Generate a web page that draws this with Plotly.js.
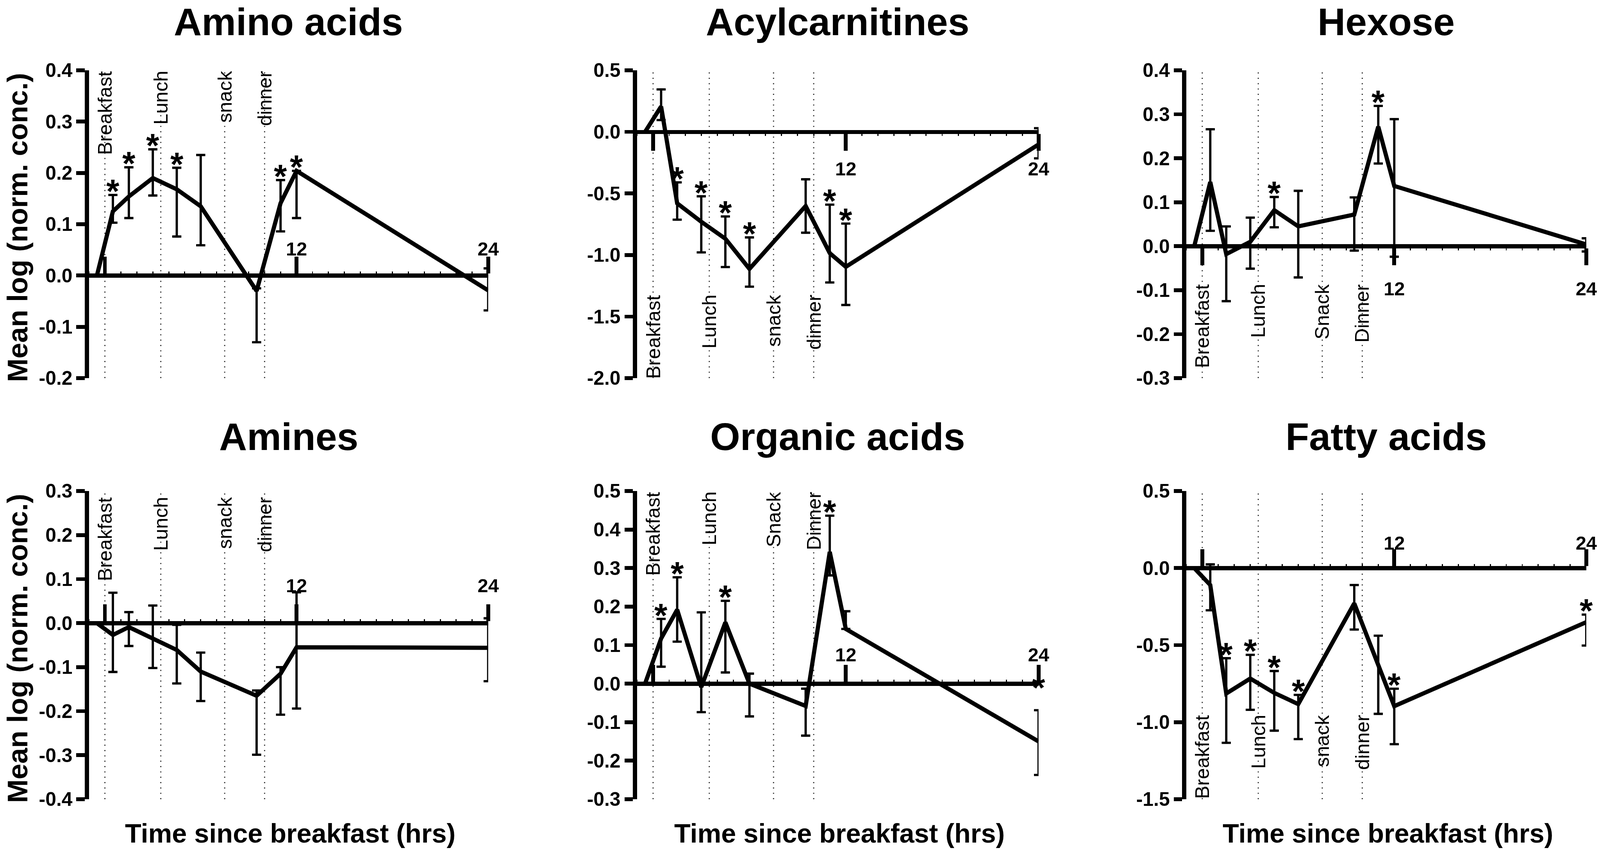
<!DOCTYPE html>
<html><head><meta charset="utf-8">
<script src="https://cdn.plot.ly/plotly-3.0.1.min.js"></script>
<style>html,body{margin:0;padding:0;background:#fff;overflow:hidden}#chart{width:100vw;height:100vh}</style>
</head><body><div id="chart"></div>
<script>
// ---------- data ----------
const times = [-0.5, 0.5, 1.5, 3, 4.5, 6, 9.5, 11, 12, 24];
const mealTimes = [0, 3.5, 7.5, 10];
const mealsLower = ['Breakfast', 'Lunch', 'snack', 'dinner'];
const mealsUpper = ['Breakfast', 'Lunch', 'Snack', 'Dinner'];
const xTickVals = [0, 12, 24];
const xTickText = ['', '12', '24'];

const aminoMean = [0, 0.125, 0.154, 0.190, 0.168, 0.135, -0.030, 0.141, 0.204, -0.029];
const aminoHi   = [0, 0.157, 0.211, 0.246, 0.210, 0.235, -0.025, 0.186, 0.204, 0.014];
const aminoLo   = [0, 0.103, 0.112, 0.156, 0.076, 0.059, -0.130, 0.086, 0.112, -0.068];
const aminoStars = [1, 2, 3, 4, 7, 8];
const aminoYTicks = [-0.2, -0.1, 0, 0.1, 0.2, 0.3, 0.4];
const aminoYText = ['-0.2', '-0.1', '0.0', '0.1', '0.2', '0.3', '0.4'];

const acylMean = [0, 0.206, -0.580, -0.730, -0.868, -1.113, -0.602, -0.985, -1.096, -0.102];
const acylHi   = [0, 0.345, -0.410, -0.523, -0.687, -0.857, -0.385, -0.591, -0.745, 0.030];
const acylLo   = [0, 0.096, -0.713, -0.979, -1.098, -1.257, -0.819, -1.223, -1.406, -0.215];
const acylStars = [2, 3, 4, 5, 7, 8];
const acylYTicks = [-2, -1.5, -1, -0.5, 0, 0.5];
const acylYText = ['-2.0', '-1.5', '-1.0', '-0.5', '0.0', '0.5'];

const hexMean = [0, 0.146, -0.018, 0.010, 0.082, 0.045, 0.072, 0.272, 0.137, 0.004];
const hexHi   = [0, 0.266, 0.045, 0.065, 0.112, 0.126, 0.111, 0.319, 0.289, 0.018];
const hexLo   = [0, 0.035, -0.125, -0.051, 0.043, -0.071, -0.010, 0.188, -0.024, -0.012];
const hexStars = [4, 7];
const hexYTicks = [-0.3, -0.2, -0.1, 0, 0.1, 0.2, 0.3, 0.4];
const hexYText = ['-0.3', '-0.2', '-0.1', '0.0', '0.1', '0.2', '0.3', '0.4'];

const amineMean = [0, -0.027, -0.009, -0.035, -0.061, -0.110, -0.165, -0.115, -0.055, -0.056];
const amineHi   = [0, 0.069, 0.025, 0.040, -0.004, -0.067, -0.153, -0.100, 0.070, 0.011];
const amineLo   = [0, -0.111, -0.052, -0.102, -0.137, -0.177, -0.299, -0.208, -0.194, -0.132];
const amineStars = [];
const amineYTicks = [-0.4, -0.3, -0.2, -0.1, 0, 0.1, 0.2, 0.3];
const amineYText = ['-0.4', '-0.3', '-0.2', '-0.1', '0.0', '0.1', '0.2', '0.3'];

const orgMean = [0, 0.117, 0.192, -0.009, 0.159, 0.000, -0.058, 0.342, 0.142, -0.150];
const orgHi   = [0, 0.168, 0.276, 0.185, 0.215, 0.026, -0.013, 0.436, 0.188, -0.069];
const orgLo   = [0, 0.044, 0.109, -0.074, 0.029, -0.085, -0.135, 0.281, 0.142, -0.237];
const orgStars = [1, 2, 4, 7, 9];
const orgStarLevel24 = -0.02;   // the 24 h star is drawn on top of the axis tick
const orgYTicks = [-0.3, -0.2, -0.1, 0, 0.1, 0.2, 0.3, 0.4, 0.5];
const orgYText = ['-0.3', '-0.2', '-0.1', '0.0', '0.1', '0.2', '0.3', '0.4', '0.5'];

const fattyMean = [0, -0.110, -0.814, -0.717, -0.810, -0.883, -0.229, -0.630, -0.896, -0.351];
const fattyHi   = [0, 0.024, -0.585, -0.563, -0.668, -0.823, -0.110, -0.439, -0.783, -0.302];
const fattyLo   = [0, -0.274, -1.134, -0.920, -1.055, -1.110, -0.399, -0.946, -1.143, -0.503];
const fattyStars = [2, 3, 4, 5, 8, 9];
const fattyYTicks = [-1.5, -1, -0.5, 0, 0.5];
const fattyYText = ['-1.5', '-1.0', '-0.5', '0.0', '0.5'];

const yTitle = 'Mean log (norm. conc.)';
const xTitle = 'Time since breakfast (hrs)';

// ---------- layout / style ----------
// design size; the drawing is scaled to the real viewport so nothing falls off the edge
const W = 4192, H = 2176;
const el = document.getElementById('chart');
const VW = el.clientWidth || window.innerWidth || W;
const VH = el.clientHeight || window.innerHeight || H;
const S = Math.min(VW / W, VH / H);
const px = v => v * S;

const FONT = 'Liberation Sans, Arial, Helvetica, sans-serif';
const colPx = [[233, 1279], [1669, 2721], [3108, 4156]];
const rowPx = [[180, 968], [1257, 2046]];
const titleTopPx = [0, 1062];
const colDom = colPx.map(c => [c[0] / W, c[1] / W]);
const rowDom = rowPx.map(r => [1 - r[1] / H, 1 - r[0] / H]);

const panels = [
  {title: 'Amino acids', mean: aminoMean, hi: aminoHi, lo: aminoLo, stars: aminoStars, meals: mealsLower, yt: aminoYTicks, ytt: aminoYText, col: 0, row: 0, side: 'top', labelY: 0.3995, standoff: -16},
  {title: 'Acylcarnitines', mean: acylMean, hi: acylHi, lo: acylLo, stars: acylStars, meals: mealsLower, yt: acylYTicks, ytt: acylYText, col: 1, row: 0, side: 'bottom', labelY: -1.32, standoff: 4},
  {title: 'Hexose', mean: hexMean, hi: hexHi, lo: hexLo, stars: hexStars, meals: mealsUpper, yt: hexYTicks, ytt: hexYText, col: 2, row: 0, side: 'bottom', labelY: -0.085, standoff: 18},
  {title: 'Amines', mean: amineMean, hi: amineHi, lo: amineLo, stars: amineStars, meals: mealsLower, yt: amineYTicks, ytt: amineYText, col: 0, row: 1, side: 'top', labelY: 0.287, standoff: 12},
  {title: 'Organic acids', mean: orgMean, hi: orgHi, lo: orgLo, stars: orgStars, starOverride: {9: orgStarLevel24}, meals: mealsUpper, yt: orgYTicks, ytt: orgYText, col: 1, row: 1, side: 'top', labelY: 0.4995, standoff: -10},
  {title: 'Fatty acids', mean: fattyMean, hi: fattyHi, lo: fattyLo, stars: fattyStars, meals: mealsLower, yt: fattyYTicks, ytt: fattyYText, col: 2, row: 1, side: 'top', labelY: -0.95, standoff: -20}
];

const data = [];
const shapes = [];
const annotations = [];
const layout = {
  width: VW, height: VH, margin: {l: 0, r: 0, t: 0, b: 0},
  paper_bgcolor: '#fff', plot_bgcolor: 'rgba(0,0,0,0)',
  showlegend: false, font: {family: FONT, color: '#000'},
  shapes: shapes, annotations: annotations
};

panels.forEach((p, i) => {
  const k = i === 0 ? '' : String(i + 1);
  const xa = 'x' + k, ya = 'y' + k;
  const ymin = Math.min(...p.yt), ymax = Math.max(...p.yt);
  const xd = colDom[p.col], yd = rowDom[p.row];
  const xPos = yd[0] + (0 - ymin) / (ymax - ymin) * (yd[1] - yd[0]);

  const plus = p.mean.map((m, j) => p.hi[j] - m);
  const minus = p.mean.map((m, j) => m - p.lo[j]);
  data.push({
    type: 'scatter', mode: 'lines', x: times, y: p.mean, xaxis: xa, yaxis: ya,
    line: {color: '#000', width: px(11)},
    error_y: {type: 'data', symmetric: false, array: plus, arrayminus: minus, color: '#000', thickness: px(6), width: px(12)},
    hoverinfo: 'skip', cliponaxis: false
  });

  // significance stars, placed on top of the upper error bar
  p.stars.forEach(j => {
    const yv = (p.starOverride && p.starOverride[j] !== undefined) ? p.starOverride[j] : p.hi[j];
    annotations.push({xref: xa, yref: ya, x: times[j], y: yv, text: '*', showarrow: false,
      xanchor: 'center', yanchor: 'bottom', yshift: px(-40), borderpad: 0,
      font: {family: FONT, size: px(88), color: '#000', weight: 'bold'}});
  });

  layout['xaxis' + k] = {
    domain: xd, range: [-1, 24], anchor: 'free', position: xPos, side: p.side,
    showline: true, linewidth: px(11), linecolor: '#000',
    ticks: 'outside', ticklen: px(44), tickwidth: px(10), tickcolor: '#000',
    tickmode: 'array', tickvals: xTickVals, ticktext: xTickText,
    tickfont: {family: FONT, size: px(50), color: '#000', weight: 'bold'},
    ticklabelstandoff: Math.round(px(p.standoff)),
    minor: {tickmode: 'linear', tick0: 0, dtick: 1, ticks: 'outside', ticklen: px(5), tickwidth: px(3), tickcolor: '#000', showgrid: false},
    showgrid: false, zeroline: false, fixedrange: true
  };
  layout['yaxis' + k] = {
    domain: yd, range: [ymin, ymax], anchor: xa, side: 'left',
    showline: true, linewidth: px(11), linecolor: '#000',
    ticks: 'outside', ticklen: px(22), tickwidth: px(10), tickcolor: '#000',
    tickmode: 'array', tickvals: p.yt, ticktext: p.ytt,
    tickfont: {family: FONT, size: px(51), color: '#000', weight: 'bold'},
    showgrid: false, zeroline: false, fixedrange: true
  };

  // meal lines & labels
  mealTimes.forEach((t, j) => {
    shapes.push({type: 'line', xref: xa, yref: ya + ' domain', x0: t, x1: t, y0: 0, y1: 1,
      line: {color: '#333', width: px(3), dash: px(3) + 'px,' + px(11) + 'px'}, layer: 'below'});
    annotations.push({xref: xa, yref: ya, x: t, y: p.labelY, text: p.meals[j], textangle: -90,
      xanchor: 'center', yanchor: 'top', showarrow: false, borderpad: 0,
      font: {family: FONT, size: px(52), color: '#000'}});
  });

  // panel title
  const cx = (xd[0] + xd[1]) / 2;
  annotations.push({xref: 'paper', yref: 'paper', x: cx, y: 1 - titleTopPx[p.row] / H,
    text: p.title, showarrow: false, xanchor: 'center', yanchor: 'top', borderpad: 0,
    font: {family: FONT, size: px(101), color: '#000', weight: 'bold'}});

  if (p.col === 0) {
    annotations.push({xref: 'paper', yref: 'paper', x: 46 / W, y: 1 - ((rowPx[p.row][0] + rowPx[p.row][1]) / 2 + 8) / H,
      text: yTitle, textangle: -90, showarrow: false, xanchor: 'center', yanchor: 'middle', borderpad: 0,
      font: {family: FONT, size: px(74), color: '#000', weight: 'bold'}});
  }
  if (p.row === 1) {
    annotations.push({xref: 'paper', yref: 'paper', x: cx + 4 / W, y: 1 - 2172 / H,
      text: xTitle, showarrow: false, xanchor: 'center', yanchor: 'bottom', borderpad: 0,
      font: {family: FONT, size: px(70), color: '#000', weight: 'bold'}});
  }
});

Plotly.newPlot('chart', data, layout, {staticPlot: true, displayModeBar: false});
</script>
</body></html>
